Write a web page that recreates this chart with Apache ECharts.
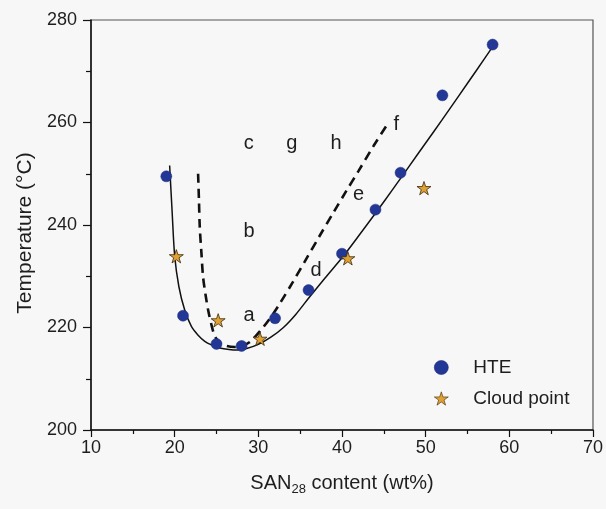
<!DOCTYPE html>
<html><head><meta charset="utf-8">
<script src="https://cdn.jsdelivr.net/npm/echarts@6/dist/echarts.min.js"></script>
<style>html,body{margin:0;padding:0;background:#f7f7f7}#c{width:606px;height:509px}</style>
</head><body><div id="c"></div>
<script>
const hteX = [19, 21, 25, 28, 32, 36, 40, 44, 47, 52, 58];
const hteY = [249.5, 222.3, 216.8, 216.4, 221.8, 227.3, 234.4, 243.0, 250.2, 265.3, 275.2];
const cloudX = [20.2, 25.2, 30.2, 40.7, 49.8];
const cloudY = [233.9, 221.4, 217.8, 233.5, 247.2];
const solidX = [19.4, 19.7, 20.0, 20.5, 21.2, 22.0, 22.8, 23.6, 24.4, 25.4, 26.5, 27.5, 28.6, 30.0, 31.5, 33.0, 34.5, 36.0, 38.0, 40.0, 42.0, 44.0, 46.0, 48.0, 50.0, 52.0, 54.0, 56.0, 58.1];
const solidY = [251.6, 242.5, 234.0, 228.0, 223.4, 220.2, 218.5, 217.3, 216.6, 216.0, 215.7, 215.6, 215.9, 216.7, 218.1, 220.0, 222.6, 225.7, 229.7, 233.6, 237.9, 242.3, 246.8, 251.4, 256.0, 260.6, 265.3, 270.0, 275.0];
const dashX = [22.8, 22.9, 23.0, 23.2, 23.4, 23.7, 24.0, 24.4, 24.8, 25.4, 26.2, 27.2, 28.0, 29.0, 30.2, 31.4, 32.5, 34.1, 35.7, 37.3, 39.0, 40.5, 42.0, 43.8, 45.6];
const dashY = [250.0, 245.0, 239.6, 234.5, 229.8, 226.3, 223.4, 220.5, 218.3, 217.0, 216.4, 216.2, 216.4, 217.2, 219.3, 221.8, 224.5, 228.8, 233.3, 237.8, 242.5, 246.6, 250.6, 255.5, 260.1];
const regionLabels = ['a', 'b', 'c', 'd', 'e', 'f', 'g', 'h'];
const regionX = [28.9, 28.9, 28.85, 36.9, 41.97, 46.5, 34.0, 39.3];
const regionY = [222.4, 238.8, 255.9, 231.1, 245.95, 259.7, 255.9, 255.9];
const xMin = 10, xMax = 70, xStep = 10;
const yMin = 200, yMax = 280, yStep = 20;

const FONT = 'Liberation Sans, Arial, sans-serif';
const TXT = '#1e1e1e';
const zip = (a, b) => a.map((v, i) => [v, b[i]]);
const starPath = 'path://M50 0 L61.23 34.55 L97.55 34.55 L68.17 55.9 L79.39 90.45 L50 69.1 L20.61 90.45 L31.83 55.9 L2.45 34.55 L38.77 34.55 Z';

const chart = echarts.init(document.getElementById('c'), null, {renderer: 'canvas'});
chart.setOption({
  backgroundColor: '#f7f7f7',
  animation: false,
  textStyle: {fontFamily: FONT},
  grid: {left: 91, right: 11, top: 20, bottom: 79, show: true, borderColor: '#555', borderWidth: 1.2, backgroundColor: 'transparent'},
  xAxis: {
    type: 'value', min: xMin, max: xMax, interval: xStep,
    axisLine: {lineStyle: {color: '#111', width: 1.5}},
    axisTick: {show: true, length: 7, lineStyle: {color: '#111', width: 1.2}},
    minorTick: {show: true, splitNumber: 2, length: 4, lineStyle: {color: '#111', width: 1.2}},
    splitLine: {show: false},
    axisLabel: {fontSize: 18, color: TXT, margin: 9, fontFamily: FONT},
    name: '{a|SAN}{s|28}{a| content (wt%)}',
    nameLocation: 'middle', nameGap: 41,
    nameTextStyle: {rich: {a: {fontSize: 20, color: TXT, fontFamily: FONT}, s: {fontSize: 13, color: TXT, fontFamily: FONT, verticalAlign: 'bottom', padding: [12, 0, 0, 0]}}}
  },
  yAxis: {
    type: 'value', min: yMin, max: yMax, interval: yStep,
    axisLine: {lineStyle: {color: '#111', width: 1.5}},
    axisTick: {show: true, length: 8, lineStyle: {color: '#111', width: 1.2}},
    minorTick: {show: true, splitNumber: 2, length: 5, lineStyle: {color: '#111', width: 1.2}},
    splitLine: {show: false},
    axisLabel: {fontSize: 18, color: TXT, margin: 14, fontFamily: FONT},
    name: 'Temperature (°C)',
    nameLocation: 'middle', nameGap: 55,
    nameTextStyle: {fontSize: 21, color: TXT, fontFamily: FONT, padding: [0, 16, 0, 0]}
  },
  legend: {
    orient: 'vertical', left: 429, top: 353, itemWidth: 14, itemHeight: 14, itemGap: 12,
    itemStyle: {borderWidth: 0.6},
    textStyle: {fontSize: 19, color: TXT, fontFamily: FONT, padding: [0, 0, 0, 20]},
    data: ['HTE', 'Cloud point']
  },
  series: [
    {type: 'line', data: zip(solidX, solidY), showSymbol: false, smooth: 0.3, silent: true,
     lineStyle: {color: '#111', width: 1.5}, z: 1},
    {type: 'line', data: zip(dashX, dashY), showSymbol: false, smooth: 0.3, silent: true,
     lineStyle: {color: '#111', width: 2.6, type: [9, 6]}, z: 1},
    {name: 'HTE', type: 'scatter', data: zip(hteX, hteY), symbol: 'circle', symbolSize: 11,
     itemStyle: {color: '#233896', borderColor: '#1a2a78', borderWidth: 0.5, opacity: 1}, z: 3},
    {name: 'Cloud point', type: 'scatter', data: zip(cloudX, cloudY), symbol: starPath, symbolSize: 14, symbolKeepAspect: true,
     itemStyle: {color: '#e0a032', borderColor: '#3a2a10', borderWidth: 0.8, opacity: 1}, z: 4},
    {type: 'scatter', data: zip(regionX, regionY), symbolSize: 0, silent: true, itemStyle: {opacity: 1},
     label: {show: true, position: 'inside', formatter: p => regionLabels[p.dataIndex], fontSize: 20, color: TXT, fontFamily: FONT}, z: 5}
  ]
});
</script></body></html>
